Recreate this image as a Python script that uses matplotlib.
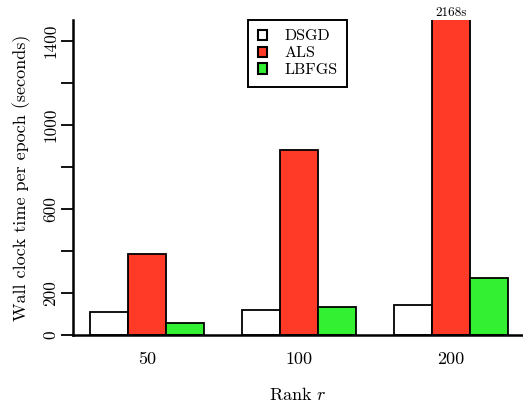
import numpy as np
import matplotlib
matplotlib.use("Agg")
import matplotlib.pyplot as plt
from matplotlib.patches import Patch

plt.rcParams["font.family"] = "cmr10"
plt.rcParams["mathtext.fontset"] = "cm"
plt.rcParams["axes.unicode_minus"] = False
plt.rcParams["axes.formatter.use_mathtext"] = True

ranks = ["50", "100", "200"]
methods = ["DSGD", "ALS", "LBFGS"]
dsgd = [111, 121, 141]
als = [385, 881, 2168]
lbfgs = [58, 132, 272]
colors = ["#FFFFFF", "#FF3B27", "#33F033"]
yticks = [0, 200, 400, 600, 800, 1000, 1200, 1400]
ytick_labels = ["0", "200", "", "600", "", "1000", "", "1400"]
ymax = 1500

fig = plt.figure(figsize=(5.23, 4.09), dpi=100)
ax = fig.add_axes([73 / 523, 74 / 409, 450 / 523, 315 / 409])

centers = np.arange(len(ranks)) * 4.0
series = [dsgd, als, lbfgs]
for i, (vals, col) in enumerate(zip(series, colors)):
    ax.bar(centers + (i - 1), vals, width=1.0, color=col,
           edgecolor="black", linewidth=1.3, label=methods[i])

# annotate the ALS bar that runs off the top of the axis
ax.text(centers[2], ymax + 6, f"{als[2]}s", ha="center", va="bottom",
        fontsize=9.5, clip_on=False, transform=ax.transData)

ax.set_xlim(-1.947, 9.895)
ax.set_ylim(0, ymax)

for s in ["top", "right"]:
    ax.spines[s].set_visible(False)
for s in ["left", "bottom"]:
    ax.spines[s].set_linewidth(1.8)

ax.set_yticks(yticks)
ax.set_yticklabels(ytick_labels, rotation=90, va="center", fontsize=12.5)
ax.tick_params(axis="y", length=8.5, width=1.3, pad=2)
ax.set_xticks(centers)
ax.set_xticklabels(ranks, fontsize=13)
ax.tick_params(axis="x", length=0, pad=12)

ax.set_ylabel("Wall clock time per epoch (seconds)", fontsize=13, labelpad=9)
ax.set_xlabel("Rank $r$", fontsize=13, labelpad=14)

handles = [Patch(facecolor=c, edgecolor="black", linewidth=1.5) for c in colors]
leg = fig.legend(handles, methods, loc="upper left",
                 bbox_to_anchor=(248 / 523, 1 - 20 / 409),
                 fontsize=11.5, frameon=True, fancybox=False,
                 edgecolor="black", framealpha=1.0,
                 handlelength=0.6, handleheight=0.6, handletextpad=1.1,
                 labelspacing=0.2, borderpad=0.6, borderaxespad=0.0)
leg.get_frame().set_linewidth(1.4)

fig.savefig("out.png", dpi=100)
